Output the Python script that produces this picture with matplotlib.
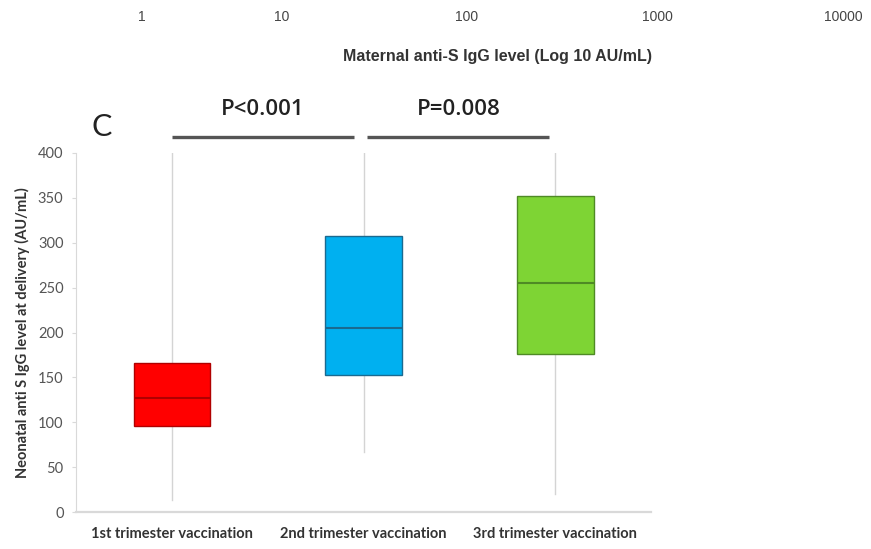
import matplotlib.pyplot as plt

groups = ['1st trimester vaccination', '2nd trimester vaccination', '3rd trimester vaccination']
q1 = [96, 153, 176]
median = [127, 205, 255]
q3 = [166, 308, 352]
low = [13, 67, 20]
high = [400, 400, 400]
fills = ['#ff0000', '#00b0f0', '#7ed434']
edges = ['#b00000', '#1a6a90', '#4f8a25']

top_ticks = ['1', '10', '100', '1000', '10000']
top_tick_x = [142, 282, 467, 657, 843]  # pixel positions of leftover axis from panel above

pvals = ['P<0.001', 'P=0.008']
pairs = [(0, 0.95), (1.02, 1.97)]

fig = plt.figure(figsize=(8.71, 5.49), dpi=100)
W, H = 871, 549
ax = fig.add_axes([76 / W, 1 - 512 / H, 575 / W, 359 / H])

stats = []
for i, g in enumerate(groups):
    stats.append(dict(label=g, q1=q1[i], med=median[i], q3=q3[i],
                      whislo=low[i], whishi=high[i], fliers=[]))

bp = ax.bxp(stats, positions=range(len(groups)), widths=0.40, patch_artist=True,
            showcaps=False, showfliers=False, manage_ticks=False, zorder=3)
for i, b in enumerate(bp['boxes']):
    b.set_facecolor(fills[i])
    b.set_edgecolor(edges[i])
    b.set_linewidth(1.0)
for i, m in enumerate(bp['medians']):
    m.set_color(edges[i])
    m.set_linewidth(1.5)
for w in bp['whiskers']:
    w.set_color('#d4d4d4')
    w.set_linewidth(1.0)
    w.set_zorder(1)

ax.set_xlim(-0.5, 2.5)
ax.set_ylim(0, 400)
ax.set_yticks(range(0, 401, 50))
ax.set_xticks(range(len(groups)))
ax.set_xticklabels(groups, fontfamily='Lato', fontweight='bold', fontsize=10.5, color='#333333')
for lab in ax.get_yticklabels():
    lab.set_fontfamily('Lato')
    lab.set_fontsize(10.5)
    lab.set_color('#555555')
ax.tick_params(axis='y', length=3, color='#d9d9d9', pad=6)
ax.tick_params(axis='x', length=0, pad=11)
for s in ['top', 'right']:
    ax.spines[s].set_visible(False)
ax.spines['left'].set_color('#d9d9d9')
ax.spines['bottom'].set_color('#d9d9d9')
ax.spines['bottom'].set_linewidth(1.6)
ax.set_ylabel('Neonatal anti S IgG level at delivery (AU/mL)', fontfamily='Lato',
              fontweight='bold', fontsize=10.5, color='#333333', labelpad=6)

# significance bars
for (x0, x1), p in zip(pairs, pvals):
    ax.plot([x0, x1], [418, 418], color='#555555', lw=2.4, clip_on=False, solid_capstyle='butt')
    ax.text((x0 + x1) / 2, 448, p, ha='center', va='center', fontfamily='Open Sans',
            fontweight='semibold', fontsize=16, color='#222222', clip_on=False)

fig.text(102 / W, 1 - 127 / H, 'C', fontfamily='Lato', fontsize=22, color='#222222',
         ha='center', va='center')

# leftover axis from upper panel
for t, x in zip(top_ticks, top_tick_x):
    fig.text(x / W, 1 - 17 / H, t, fontfamily='Liberation Sans', fontsize=10,
             color='#444444', ha='center', va='center')
fig.text(497 / W, 1 - 57 / H, 'Maternal anti-S IgG level (Log 10 AU/mL)', fontfamily='Liberation Sans',
         fontweight='bold', fontsize=11.5, color='#333333', ha='center', va='center')

fig.savefig('out.png', dpi=100)
